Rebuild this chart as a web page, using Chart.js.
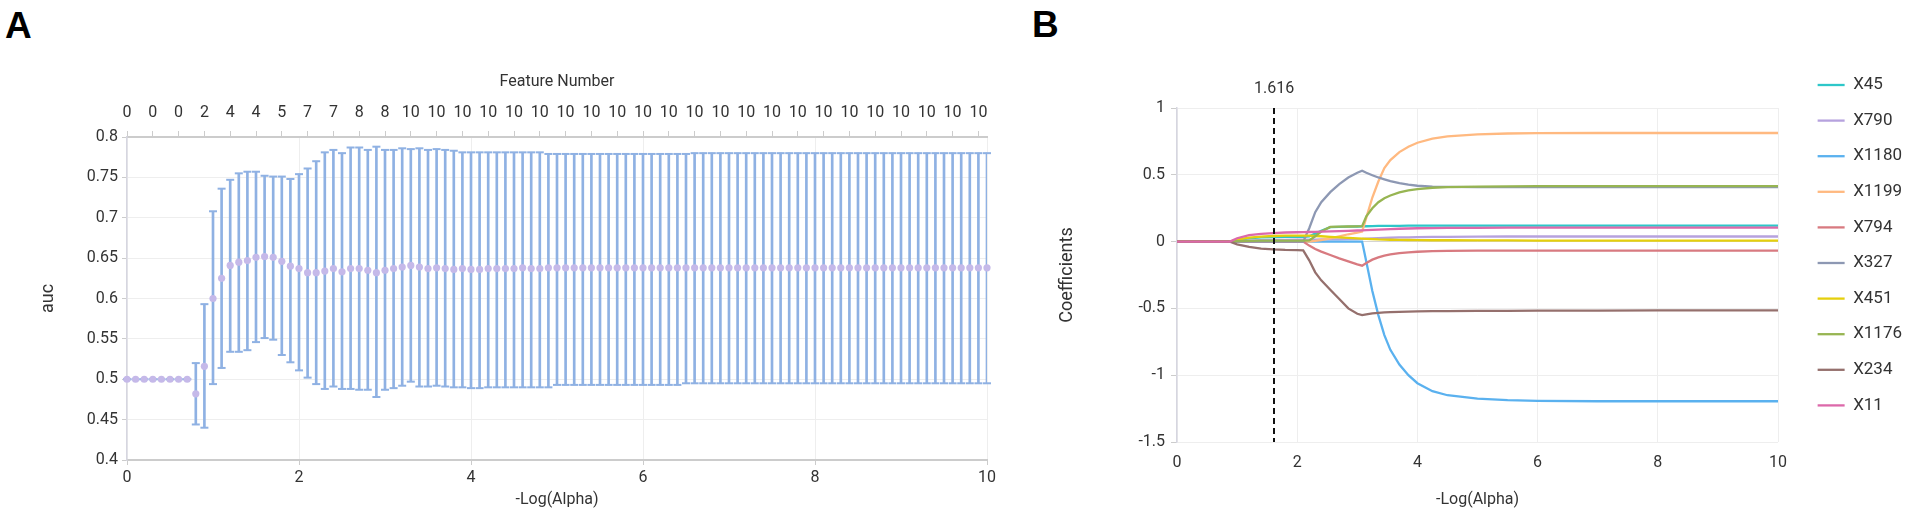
<!DOCTYPE html>
<html>
<head>
<meta charset="utf-8">
<script src="https://cdn.jsdelivr.net/npm/chart.js@4.4.1/dist/chart.umd.min.js"></script>
<style>
  html, body { margin: 0; padding: 0; background: #fff; overflow: hidden; }
  body { width: 1907px; height: 526px; position: relative; }
  .panel-letter { position: absolute; font: bold 37px "Liberation Sans", Arial, sans-serif; color: #000; line-height: 1; }
  canvas { position: absolute; top: 0; }
</style>
</head>
<body>
<div class="panel-letter" style="left:5px; top:7px">A</div>
<div class="panel-letter" style="left:1032px; top:6px">B</div>
<canvas id="auc-chart" width="1010" height="526" style="left:0"></canvas>
<canvas id="coef-chart" width="902" height="526" style="left:1010px"></canvas>
<script>
// Panel A: cross-validated auc for each -log(alpha) step
const negLogAlpha = [
  0, 0.1, 0.2, 0.3, 0.4, 0.5, 0.6, 0.7, 0.8, 0.9,
  1, 1.1, 1.2, 1.3, 1.4, 1.5, 1.6, 1.7, 1.8, 1.9,
  2, 2.1, 2.2, 2.3, 2.4, 2.5, 2.6, 2.7, 2.8, 2.9,
  3, 3.1, 3.2, 3.3, 3.4, 3.5, 3.6, 3.7, 3.8, 3.9,
  4, 4.1, 4.2, 4.3, 4.4, 4.5, 4.6, 4.7, 4.8, 4.9,
  5, 5.1, 5.2, 5.3, 5.4, 5.5, 5.6, 5.7, 5.8, 5.9,
  6, 6.1, 6.2, 6.3, 6.4, 6.5, 6.6, 6.7, 6.8, 6.9,
  7, 7.1, 7.2, 7.3, 7.4, 7.5, 7.6, 7.7, 7.8, 7.9,
  8, 8.1, 8.2, 8.3, 8.4, 8.5, 8.6, 8.7, 8.8, 8.9,
  9, 9.1, 9.2, 9.3, 9.4, 9.5, 9.6, 9.7, 9.8, 9.9,
  10
];
const aucMean = [
  0.5, 0.5, 0.5, 0.5, 0.5, 0.5, 0.5, 0.5, 0.482, 0.516,
  0.600, 0.625, 0.641, 0.645, 0.647, 0.651, 0.652, 0.651, 0.646, 0.640,
  0.637, 0.632, 0.632, 0.634, 0.637, 0.633, 0.637, 0.637, 0.635, 0.632,
  0.635, 0.637, 0.639, 0.641, 0.639, 0.637, 0.638, 0.637, 0.636, 0.637,
  0.636, 0.636, 0.637, 0.637, 0.637, 0.637, 0.638, 0.637, 0.637, 0.638,
  0.638, 0.638, 0.638, 0.638, 0.638, 0.638, 0.638, 0.638, 0.638, 0.638,
  0.638, 0.638, 0.638, 0.638, 0.638, 0.638, 0.638, 0.638, 0.638, 0.638,
  0.638, 0.638, 0.638, 0.638, 0.638, 0.638, 0.638, 0.638, 0.638, 0.638,
  0.638, 0.638, 0.638, 0.638, 0.638, 0.638, 0.638, 0.638, 0.638, 0.638,
  0.638, 0.638, 0.638, 0.638, 0.638, 0.638, 0.638, 0.638, 0.638, 0.638,
  0.638
];
const aucLow = [
  0.5, 0.5, 0.5, 0.5, 0.5, 0.5, 0.5, 0.5, 0.444, 0.440,
  0.494, 0.514, 0.534, 0.534, 0.536, 0.546, 0.551, 0.549, 0.530, 0.521,
  0.511, 0.502, 0.494, 0.488, 0.491, 0.488, 0.488, 0.487, 0.487, 0.478,
  0.487, 0.489, 0.492, 0.497, 0.491, 0.491, 0.492, 0.491, 0.490, 0.490,
  0.489, 0.489, 0.490, 0.490, 0.490, 0.490, 0.490, 0.490, 0.490, 0.490,
  0.493, 0.493, 0.493, 0.493, 0.493, 0.493, 0.493, 0.493, 0.493, 0.493,
  0.493, 0.493, 0.493, 0.493, 0.493, 0.495, 0.495, 0.495, 0.495, 0.495,
  0.495, 0.495, 0.495, 0.495, 0.495, 0.495, 0.495, 0.495, 0.495, 0.495,
  0.495, 0.495, 0.495, 0.495, 0.495, 0.495, 0.495, 0.495, 0.495, 0.495,
  0.495, 0.495, 0.495, 0.495, 0.495, 0.495, 0.495, 0.495, 0.495, 0.495,
  0.495
];
const aucHigh = [
  0.5, 0.5, 0.5, 0.5, 0.5, 0.5, 0.5, 0.5, 0.520, 0.593,
  0.708, 0.736, 0.747, 0.755, 0.757, 0.757, 0.752, 0.751, 0.751, 0.748,
  0.754, 0.761, 0.770, 0.781, 0.784, 0.780, 0.787, 0.787, 0.784, 0.788,
  0.784, 0.784, 0.786, 0.785, 0.786, 0.784, 0.785, 0.784, 0.783, 0.781,
  0.781, 0.781, 0.781, 0.781, 0.781, 0.781, 0.781, 0.781, 0.781, 0.779,
  0.779, 0.779, 0.779, 0.779, 0.779, 0.779, 0.779, 0.779, 0.779, 0.779,
  0.779, 0.779, 0.779, 0.779, 0.779, 0.779, 0.780, 0.780, 0.780, 0.780,
  0.780, 0.780, 0.780, 0.780, 0.780, 0.780, 0.780, 0.780, 0.780, 0.780,
  0.780, 0.780, 0.780, 0.780, 0.780, 0.780, 0.780, 0.780, 0.780, 0.780,
  0.780, 0.780, 0.780, 0.780, 0.780, 0.780, 0.780, 0.780, 0.780, 0.780,
  0.780
];
// feature counts shown on the top axis, one label every third alpha step
const featureTicks = [0, 0, 0, 2, 4, 4, 5, 7, 7, 8, 8,
  10, 10, 10, 10, 10, 10, 10, 10, 10, 10, 10, 10,
  10, 10, 10, 10, 10, 10, 10, 10, 10, 10, 10];

// Panel B: lasso coefficient paths
const pathAlpha = [0, 0.88, 1, 1.2, 1.4, 1.6, 1.8, 2, 2.1, 2.2, 2.3, 2.4, 2.55, 2.7, 2.85, 3, 3.08,
  3.15, 3.25, 3.35, 3.45, 3.55, 3.7, 3.85, 4, 4.25, 4.5, 5, 5.5, 6, 7, 8, 10];
const coefX45 = [0, 0, 0.012, 0.024, 0.031, 0.034, 0.035, 0.035, 0.035, 0.04, 0.06, 0.08, 0.108, 0.11, 0.112, 0.113, 0.114,
  0.115, 0.116, 0.117, 0.117, 0.118, 0.118, 0.119, 0.119, 0.12, 0.12, 0.12, 0.12, 0.12, 0.12, 0.12, 0.12];
const coefX790 = [0, 0, 0.003, 0.007, 0.01, 0.012, 0.013, 0.014, 0.014, 0.015, 0.015, 0.016, 0.016, 0.017, 0.018, 0.019, 0.02,
  0.022, 0.024, 0.026, 0.028, 0.029, 0.031, 0.032, 0.033, 0.035, 0.036, 0.037, 0.038, 0.038, 0.038, 0.038, 0.038];
const coefX1180 = [0, 0, 0, 0, 0, 0, 0, 0, 0, 0, 0, 0, 0, 0, 0, 0, 0,
  -0.15, -0.37, -0.55, -0.7, -0.81, -0.92, -1.0, -1.06, -1.12, -1.15, -1.175, -1.187, -1.192, -1.195, -1.195, -1.195];
const coefX1199 = [0, 0, 0, 0, 0, 0, 0, 0, 0, 0, 0.005, 0.012, 0.025, 0.04, 0.055, 0.068, 0.075,
  0.18, 0.33, 0.45, 0.55, 0.61, 0.67, 0.71, 0.74, 0.77, 0.788, 0.803, 0.809, 0.812, 0.813, 0.813, 0.813];
const coefX794 = [0, 0, 0, 0, 0, 0, 0, 0, 0, -0.03, -0.055, -0.075, -0.1, -0.125, -0.148, -0.17, -0.18,
  -0.16, -0.135, -0.118, -0.105, -0.096, -0.087, -0.08, -0.076, -0.072, -0.07, -0.068, -0.067, -0.067, -0.067, -0.067, -0.067];
const coefX327 = [0, 0, 0, 0, 0, 0, 0, 0, 0, 0.1, 0.22, 0.295, 0.37, 0.43, 0.48, 0.515, 0.53,
  0.515, 0.497, 0.48, 0.466, 0.453, 0.437, 0.426, 0.418, 0.412, 0.41, 0.408, 0.408, 0.408, 0.408, 0.408, 0.408];
const coefX451 = [0, 0, 0.015, 0.03, 0.038, 0.042, 0.044, 0.045, 0.045, 0.044, 0.042, 0.04, 0.036, 0.032, 0.028, 0.024, 0.022,
  0.02, 0.018, 0.016, 0.015, 0.014, 0.013, 0.012, 0.011, 0.01, 0.01, 0.009, 0.009, 0.008, 0.008, 0.008, 0.008];
const coefX1176 = [0, 0, 0.003, 0.006, 0.007, 0.008, 0.008, 0.008, 0.008, 0.009, 0.04, 0.075, 0.11, 0.112, 0.113, 0.114, 0.116,
  0.19, 0.25, 0.295, 0.325, 0.345, 0.368, 0.383, 0.393, 0.403, 0.408, 0.412, 0.414, 0.415, 0.415, 0.415, 0.415];
const coefX234 = [0, 0, -0.02, -0.04, -0.052, -0.058, -0.062, -0.064, -0.066, -0.14, -0.23, -0.29, -0.36, -0.43, -0.5, -0.54, -0.55,
  -0.545, -0.538, -0.533, -0.53, -0.528, -0.526, -0.524, -0.523, -0.521, -0.52, -0.519, -0.518, -0.517, -0.516, -0.515, -0.515];
const coefX11 = [0, 0, 0.025, 0.048, 0.058, 0.064, 0.068, 0.07, 0.071, 0.072, 0.073, 0.075, 0.077, 0.079, 0.081, 0.083, 0.084,
  0.086, 0.088, 0.09, 0.092, 0.094, 0.096, 0.098, 0.1, 0.101, 0.102, 0.103, 0.104, 0.104, 0.104, 0.104, 0.104];
const coefNames = ['X45', 'X790', 'X1180', 'X1199', 'X794', 'X327', 'X451', 'X1176', 'X234', 'X11'];
const coefPaths = [coefX45, coefX790, coefX1180, coefX1199, coefX794, coefX327, coefX451, coefX1176, coefX234, coefX11];
const coefColors = ['#2ec7c9', '#b6a2de', '#5ab1ef', '#ffb980', '#d87a80', '#8d98b3', '#e5cf0d', '#97b552', '#95706d', '#dc69aa'];
const bestAlpha = 1.616;

Chart.defaults.font.family = 'Roboto, "Noto Sans", sans-serif';
Chart.defaults.font.size = 16;
Chart.defaults.color = '#333';

const barColor = '#8fb1e3';
const dotColor = '#c5b9e9';
const gridColor = '#eeeeee';
const axisColor = '#cccccc';

new Chart(document.getElementById('auc-chart'), {
  type: 'scatter',
  data: {
    labels: negLogAlpha,
    datasets: [
      { label: 'auc', data: aucMean, pointRadius: 3.6, pointBorderWidth: 0,
        pointBackgroundColor: dotColor, borderColor: dotColor, clip: false },
      { label: 'upper', data: aucHigh, pointStyle: 'line', pointRadius: 4,
        pointBorderWidth: 2, borderColor: barColor, clip: false },
      { label: 'lower', data: aucLow, pointStyle: 'line', pointRadius: 4,
        pointBorderWidth: 2, borderColor: barColor, clip: false },
      { type: 'bar', label: 'range', data: aucLow.map((lo, i) => [lo, aucHigh[i]]),
        backgroundColor: barColor, borderWidth: 0, barThickness: 2 }
    ]
  },
  options: {
    responsive: false,
    animation: false,
    events: [],
    layout: { padding: { left: 0, right: 23, top: 0, bottom: 0 } },
    plugins: { legend: { display: false }, tooltip: { enabled: false } },
    scales: {
      x: {
        type: 'linear', min: 0, max: 10, offset: false,
        ticks: { stepSize: 2, padding: 3.4, maxRotation: 0 },
        grid: { color: gridColor, tickColor: axisColor, tickLength: 5, offset: false },
        border: { color: axisColor, width: 2 },
        title: { display: true, text: '-Log(Alpha)', padding: { top: 0, bottom: 16.4 } },
        afterFit: s => { s.height = 66; }
      },
      xFeat: {
        type: 'linear', axis: 'x', position: 'top', min: 0, max: 10,
        afterBuildTicks: s => { s.ticks = featureTicks.map((_, i) => ({ value: negLogAlpha[i * 3] })); },
        ticks: { autoSkip: false, maxRotation: 0, padding: 8.4, callback: (v, i) => featureTicks[i] },
        grid: { drawOnChartArea: false, tickColor: axisColor, tickLength: 6 },
        border: { color: axisColor, width: 2 },
        title: { display: true, text: 'Feature Number', padding: { top: 72.4, bottom: 0 } },
        afterFit: s => { s.height = 137; }
      },
      y: {
        min: 0.4, max: 0.8, beginAtZero: false,
        ticks: { stepSize: 0.05, padding: 4, format: { minimumFractionDigits: 0, maximumFractionDigits: 2 } },
        grid: { color: gridColor, tickColor: axisColor, tickLength: 5 },
        border: { color: '#d6d6e0', width: 1.5 },
        title: { display: true, text: 'auc', font: { size: 18 }, padding: { top: 37.2, bottom: 0 } },
        afterFit: s => { s.width = 127; }
      }
    }
  }
});

new Chart(document.getElementById('coef-chart'), {
  type: 'line',
  data: {
    labels: pathAlpha,
    datasets: coefNames.map((name, i) => ({
      label: name,
      data: coefPaths[i],
      borderColor: coefColors[i],
      backgroundColor: coefColors[i],
      borderWidth: 2.3,
      pointRadius: 0,
      tension: 0,
      // later series sit on top, like the original
      order: coefNames.length - i
    }))
  },
  options: {
    responsive: false,
    animation: false,
    events: [],
    layout: { padding: 0 },
    plugins: {
      tooltip: { enabled: false },
      legend: {
        position: 'right',
        align: 'start',
        title: { display: true, text: '', font: { size: 12 }, padding: { top: 43.5, bottom: 0 } },
        labels: {
          usePointStyle: true, pointStyle: 'line', pointStyleWidth: 27,
          padding: 18.6, font: { size: 17 }, color: '#333',
          sort: (a, b) => a.datasetIndex - b.datasetIndex
        }
      }
    },
    scales: {
      x: {
        type: 'linear', min: 0, max: 10,
        ticks: { stepSize: 2, padding: 11.4, maxRotation: 0 },
        grid: { color: gridColor, drawTicks: false },
        border: { display: false },
        title: { display: true, text: '-Log(Alpha)', padding: { top: 0, bottom: 16.4 } },
        afterFit: s => { s.height = 84; }
      },
      // chosen alpha: its grid line is the dashed marker
      xCut: {
        type: 'linear', axis: 'x', position: 'top', min: 0, max: 10,
        afterBuildTicks: s => { s.ticks = [{ value: bestAlpha }]; },
        ticks: { padding: 9.4, callback: () => bestAlpha.toFixed(3) },
        grid: { color: '#111111', lineWidth: 2, drawTicks: false, z: 1 },
        border: { display: false, dash: [6, 4] },
        afterFit: s => { s.height = 108; }
      },
      y: {
        min: -1.5, max: 1,
        ticks: { stepSize: 0.5, padding: 6, format: { minimumFractionDigits: 0 } },
        grid: {
          color: c => (c.tick && c.tick.value === 0 ? '#d4d4d4' : gridColor),
          tickColor: axisColor, tickLength: 6
        },
        border: { color: '#d6d6e0', width: 1.5 },
        title: { display: true, text: 'Coefficients', font: { size: 18 }, padding: { top: 46.2, bottom: 0 } },
        afterFit: s => { s.width = 167; }
      },
      // keeps a gap between plot and legend
      yGap: {
        type: 'linear', axis: 'y', position: 'right', display: true,
        grid: { display: false }, border: { display: false }, ticks: { display: false },
        afterFit: s => { s.width = 21; }
      }
    }
  }
});
</script>
</body>
</html>
